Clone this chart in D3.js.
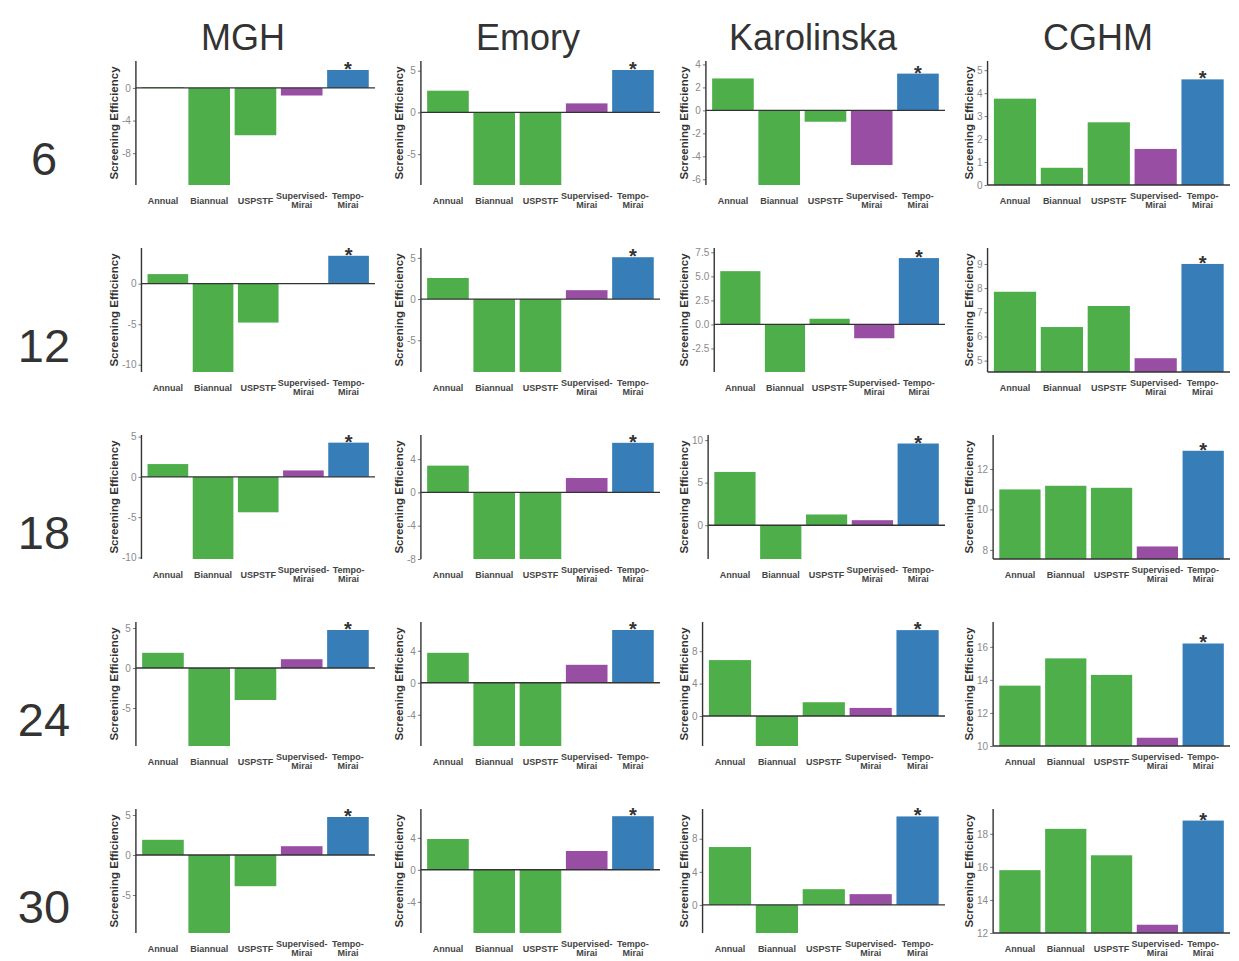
<!DOCTYPE html>
<html>
<head>
<meta charset="utf-8">
<script src="https://cdn.jsdelivr.net/npm/d3@7"></script>
<style>
  body { margin: 0; background: #fff; }
  text { font-family: "Liberation Sans", Arial, Helvetica, sans-serif; }
</style>
</head>
<body>
<div id="chart"></div>
<script>
// column / row headers
var centers = ["MGH", "Emory", "Karolinska", "CGHM"];
var intervals = ["6", "12", "18", "24", "30"];
var strategies = ["Annual", "Biannual", "USPSTF", "Supervised-Mirai", "Tempo-Mirai"];

// screening efficiency per interval row (Annual, Biannual, USPSTF, Supervised-Mirai, Tempo-Mirai)
var mghValues = [
  [0.1, -13, -5.8, -0.93, 2.2],
  [1.18, -12, -4.8, 0, 3.44],
  [1.59, -11, -4.4, 0.8, 4.25],
  [1.9, -11, -4.0, 1.1, 4.75],
  [1.9, -11, -3.9, 1.1, 4.75]
];
var emoryValues = [
  [2.6, -10, -10, 1.08, 5.08],
  [2.56, -10, -10, 1.08, 5.08],
  [3.22, -9, -9, 1.73, 5.96],
  [3.75, -9, -9, 2.25, 6.6],
  [3.85, -9, -9, 2.35, 6.7]
];
var karolinskaValues = [
  [2.78, -6.5, -0.99, -4.76, 3.2],
  [5.54, -6, 0.59, -1.44, 6.9],
  [6.26, -5, 1.26, 0.59, 9.6],
  [6.9, -5, 1.7, 1.0, 10.6],
  [7.0, -5, 1.9, 1.3, 10.7]
];
var cghmValues = [
  [3.76, 0.75, 2.73, 1.57, 4.6],
  [7.85, 6.39, 7.26, 5.1, 9.0],
  [10.99, 11.17, 11.07, 8.17, 12.9],
  [13.65, 15.3, 14.3, 10.5, 16.2],
  [15.8, 18.3, 16.7, 12.5, 18.8]
];

// y ranges shown in each panel
var mghDomains = [[-11.9, 3.3], [-10.9, 4.4], [-10.2, 5.2], [-9.75, 5.75], [-9.75, 5.75]];
var emoryDomains = [[-8.7, 6.16], [-8.85, 6.2], [-8, 6.9], [-7.9, 7.6], [-7.9, 7.6]];
var karolinskaDomains = [[-6.5, 4.3], [-4.95, 7.95], [-3.97, 10.6], [-3.7, 11.6], [-3.4, 11.6]];
var cghmDomains = [[0, 5.4], [4.53, 9.66], [7.55, 13.68], [10, 17.5], [12, 19.5]];

// tick labels
var mghTicks = [[0, -4, -8], [0, -5, -10], [5, 0, -5, -10], [5, 0, -5], [5, 0, -5]];
var emoryTicks = [[5, 0, -5], [5, 0, -5], [4, 0, -4, -8], [4, 0, -4], [4, 0, -4]];
var karolinskaTicks = [[4, 2, 0, -2, -4, -6], [7.5, 5, 2.5, 0, -2.5], [10, 5, 0], [8, 4, 0], [8, 4, 0]];
var cghmTicks = [[0, 1, 2, 3, 4, 5], [5, 6, 7, 8, 9], [8, 10, 12], [10, 12, 14, 16], [12, 14, 16, 18]];

var allValues = [mghValues, emoryValues, karolinskaValues, cghmValues];
var allDomains = [mghDomains, emoryDomains, karolinskaDomains, cghmDomains];
var allTicks = [mghTicks, emoryTicks, karolinskaTicks, cghmTicks];

var barColors = ["#4DAE4A", "#4DAE4A", "#4DAE4A", "#984EA3", "#377EB8"];

var width = 1239, height = 961;
var colX = [100, 385, 670, 955];
var rowTop = [61, 248, 435, 622, 809];
var plotH = 124;

var svg = d3.select("#chart").append("svg")
  .attr("width", width)
  .attr("height", height);

// column titles
svg.selectAll(".colTitle")
  .data(centers)
  .enter()
  .append("text")
  .attr("class", "colTitle")
  .attr("x", (d, i) => colX[i] + 143)
  .attr("y", 50)
  .attr("text-anchor", "middle")
  .attr("font-size", 36)
  .attr("fill", "#333")
  .text(d => d);

// row labels
svg.selectAll(".rowTitle")
  .data(intervals)
  .enter()
  .append("text")
  .attr("class", "rowTitle")
  .attr("x", 44)
  .attr("y", (d, i) => rowTop[i] + 114)
  .attr("text-anchor", "middle")
  .attr("font-size", 47)
  .attr("fill", "#333")
  .text(d => d);

function drawPanel(vals, dom, ticks, cx, top) {
  var bottom = top + plotH;
  var right = cx + 275;
  var g = svg.append("g");

  var y = d3.scaleLinear().domain(dom).range([bottom, top]).clamp(true);
  var dec = ticks.some(t => t % 1 !== 0);
  var fmt = t => (t < 0 ? "-" : "") + (dec ? Math.abs(t).toFixed(1) : Math.abs(t));

  // y axis first so its width sets where the plot starts
  var axisG = g.append("g")
    .call(d3.axisLeft(y).tickValues(ticks).tickSize(3).tickSizeOuter(0).tickPadding(2).tickFormat(fmt));
  axisG.selectAll("text").attr("font-size", 10).attr("fill", "#8a8a8a")
    .style("font-family", "'Liberation Sans', Arial, sans-serif");
  axisG.selectAll(".tick line").attr("stroke", "#777");
  axisG.select(".domain").remove();
  var axisW = axisG.node().getBBox().width;
  var left = cx + 22 + axisW;
  axisG.attr("transform", `translate(${left},0)`);

  var base = dom[0] > 0 ? dom[0] : 0;

  var x = d3.scaleBand()
    .domain(strategies)
    .range([left, right])
    .paddingInner(0.1)
    .paddingOuter(0.135);

  g.append("g")
    .selectAll("rect")
    .data(vals)
    .enter()
    .append("rect")
    .attr("x", (d, i) => x(strategies[i]))
    .attr("width", x.bandwidth())
    .attr("y", d => y(Math.max(d, base)))
    .attr("height", d => Math.abs(y(d) - y(base)))
    .attr("fill", (d, i) => barColors[i]);

  // axis lines
  g.append("line")
    .attr("x1", left).attr("x2", left)
    .attr("y1", top).attr("y2", bottom)
    .attr("stroke", "#333").attr("stroke-width", 1.4);
  g.append("line")
    .attr("x1", left).attr("x2", right)
    .attr("y1", y(base)).attr("y2", y(base))
    .attr("stroke", "#333").attr("stroke-width", 1.4);

  // significance star on Tempo-Mirai
  g.append("text")
    .attr("x", x("Tempo-Mirai") + x.bandwidth() / 2)
    .attr("y", y(vals[4]) + 6)
    .attr("text-anchor", "middle")
    .attr("font-size", 20)
    .attr("font-weight", "bold")
    .attr("fill", "#333")
    .text("*");

  // x labels
  strategies.forEach(function(s) {
    var parts = s.indexOf("-") > 0 ? [s.split("-")[0] + "-", s.split("-")[1]] : [s];
    var t = g.append("text")
      .attr("x", x(s) + x.bandwidth() / 2)
      .attr("text-anchor", "middle")
      .attr("font-size", 9)
      .attr("font-weight", "bold")
      .attr("fill", "#444");
    if (parts.length === 1) {
      t.attr("y", bottom + 18.5).text(s);
    } else {
      t.append("tspan").attr("x", x(s) + x.bandwidth() / 2).attr("y", bottom + 13.5).text(parts[0]);
      t.append("tspan").attr("x", x(s) + x.bandwidth() / 2).attr("y", bottom + 22.5).text(parts[1]);
    }
  });

  // y title
  g.append("text")
    .attr("transform", `translate(${cx + 18},${(top + bottom) / 2}) rotate(-90)`)
    .attr("text-anchor", "middle")
    .attr("font-size", 11.5)
    .attr("font-weight", "bold")
    .attr("fill", "#333")
    .text("Screening Efficiency");
}

for (var c = 0; c < centers.length; c++) {
  for (var r = 0; r < intervals.length; r++) {
    drawPanel(allValues[c][r], allDomains[c][r], allTicks[c][r], colX[c], rowTop[r]);
  }
}
</script>
</body>
</html>
